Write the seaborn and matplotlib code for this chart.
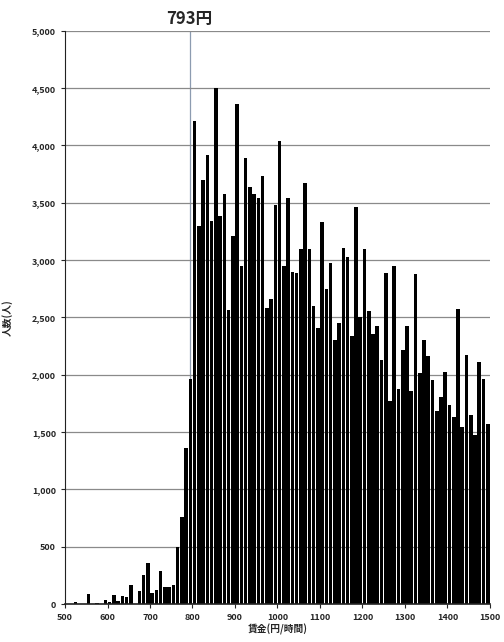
"""Wage distribution histogram (hourly wage, 10-yen bins)."""

import matplotlib
matplotlib.use("Agg")
import matplotlib.pyplot as plt
import matplotlib.ticker as mticker
import seaborn as sns
import numpy as np

# Data: bin start (yen/hour) and number of people per 10-yen bin
bin_starts = list(range(500, 1500, 10))
counts = [
    5, 5, 18, 5, 5, 88, 5, 8, 5, 35,              # 500-590
    15, 80, 25, 70, 65, 168, 5, 118, 258, 356,    # 600-690
    95, 123, 290, 150, 150, 168, 500, 760, 1360, 1960,  # 700-790
    4210, 3300, 3700, 3920, 3345, 4505, 3385, 3575, 2565, 3210,  # 800-890
    4360, 2950, 3890, 3635, 3575, 3540, 3735, 2580, 2660, 3480,  # 900-990
    4035, 2950, 3540, 2900, 2885, 3100, 3670, 3100, 2600, 2405,  # 1000-1090
    3335, 2745, 2975, 2300, 2455, 3110, 3030, 2340, 3465, 2505,  # 1100-1190
    3095, 2555, 2360, 2425, 2125, 2890, 1775, 2950, 1880, 2220,  # 1200-1290
    2425, 1860, 2880, 2015, 2300, 2160, 1955, 1680, 1810, 2025,  # 1300-1390
    1735, 1635, 2570, 1545, 2170, 1650, 1475, 2115, 1960, 1570,  # 1400-1490
]
min_wage = 793
x_ticks = list(range(500, 1501, 100))
y_ticks = list(range(0, 5001, 500))

sns.set_style("white")
plt.rcParams['font.family'] = ['Noto Sans CJK JP', 'DejaVu Sans']

fig = plt.figure(figsize=(5.04, 6.42), dpi=100)
ax = fig.add_axes([0.129, 0.059, 0.843, 0.893])

sns.histplot(
    x=bin_starts,
    weights=counts,
    binwidth=10,
    binrange=(500, 1500),
    shrink=0.85,
    color="black",
    edgecolor="none",
    alpha=1.0,
    ax=ax,
)

ax.set_xlim(500, 1500)
ax.set_ylim(0, 5000)
ax.set_xticks(x_ticks)
ax.set_yticks(y_ticks)
ax.yaxis.set_major_formatter(mticker.FuncFormatter(lambda v, p: f"{int(v):,}"))
ax.grid(axis='y', color='#8a8a8a', linewidth=0.9)
ax.set_axisbelow(True)

# minimum wage marker
ax.axvline(min_wage, color='#8c9bb0', linewidth=0.9, zorder=0)
ax.annotate(f"{min_wage}円", xy=(min_wage, 5000), xytext=(0, 2),
            textcoords='offset points', ha='center', va='bottom',
            fontsize=12, fontweight='bold', annotation_clip=False)

for side in ['top', 'right']:
    ax.spines[side].set_visible(False)
ax.spines['left'].set_color('#222222')
ax.spines['bottom'].set_color('#222222')
ax.spines['bottom'].set_linewidth(1.2)

ax.tick_params(axis='both', labelsize=6.5, length=3, width=0.8, direction='out',
               left=True, bottom=True)
for lab in ax.get_xticklabels() + ax.get_yticklabels():
    lab.set_fontweight('bold')

ax.set_xlabel("賃金(円/時間)", fontsize=7, fontweight='bold', labelpad=1)
ax.set_ylabel("人数(人)", fontsize=7, fontweight='bold', labelpad=14)

plt.savefig("out.png", dpi=100)
plt.close()
